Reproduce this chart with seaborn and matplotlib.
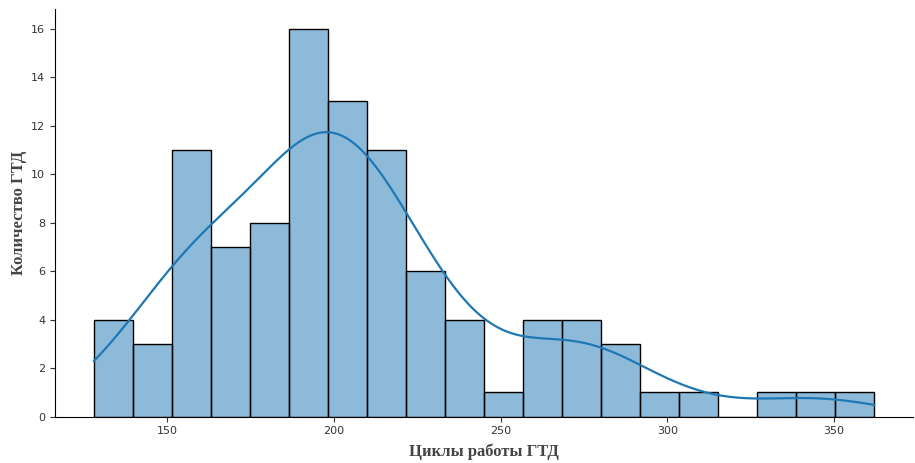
import matplotlib
matplotlib.use('Agg')
import matplotlib.pyplot as plt
import numpy as np
import seaborn as sns

# Распределение циклов работы ГТД (100 двигателей), 20 интервалов.
min_cycle = 128
max_cycle = 362
engine_counts = [4, 3, 11, 7, 8, 16, 13, 11, 6, 4,
                 1, 4, 4, 3, 1, 1, 0, 1, 1, 1]

n_bins = len(engine_counts)
edges = np.linspace(min_cycle, max_cycle, n_bins + 1)
cycle_centers = (edges[:-1] + edges[1:]) / 2

figure, ax = plt.subplots(figsize=(9.15, 4.63), dpi=100)

sns.histplot(
    x=cycle_centers,
    weights=engine_counts,
    bins=n_bins,
    binrange=(min_cycle, max_cycle),
    kde=True,
    kde_kws={'bw_adjust': 0.55, 'cut': 3,
             'clip': (min_cycle, max_cycle)},
    edgecolor='black',
    linewidth=1,
    line_kws={'linewidth': 1.6},
    ax=ax
)

label_font = {'family': 'Liberation Serif', 'weight': 'bold',
              'size': 12, 'color': '#444444'}
ax.set_xlabel('Циклы работы ГТД', fontdict=label_font, labelpad=5)
ax.set_ylabel('Количество ГТД', fontdict=label_font, labelpad=3)
ax.tick_params(labelsize=8, colors='#333333')
ax.set_yticks(np.arange(0, 17, 2))

sns.despine(ax=ax)

figure.subplots_adjust(left=0.06, right=0.998, top=0.98, bottom=0.10)
figure.savefig('out.png', dpi=100)
